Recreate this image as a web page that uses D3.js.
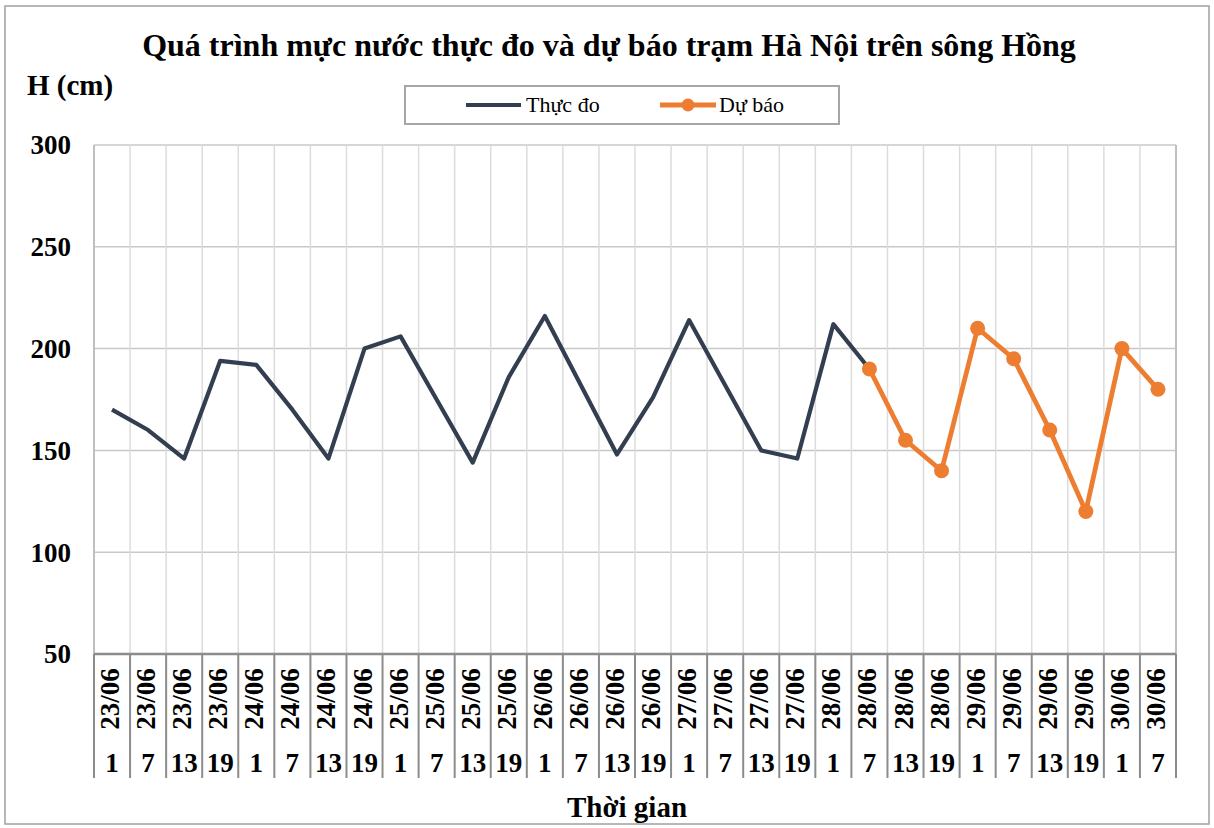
<!DOCTYPE html>
<html><head><meta charset="utf-8">
<script src="https://cdn.jsdelivr.net/npm/d3@7"></script>
<style>body{margin:0;background:#fff}svg{display:block}text{font-family:"Liberation Serif","Times New Roman",serif}</style>
</head><body><svg id="c" width="1214" height="828"></svg>
<script>
const dates = ["23/06","23/06","23/06","23/06","24/06","24/06","24/06","24/06","25/06","25/06","25/06","25/06","26/06","26/06","26/06","26/06","27/06","27/06","27/06","27/06","28/06","28/06","28/06","28/06","29/06","29/06","29/06","29/06","30/06","30/06"];
const hours = ["1","7","13","19","1","7","13","19","1","7","13","19","1","7","13","19","1","7","13","19","1","7","13","19","1","7","13","19","1","7"];
const observed = [170,160,146,194,192,170,146,200,206,175,144,186,216,182,148,176,214,182,150,146,212,190,null,null,null,null,null,null,null,null];
const forecast = [null,null,null,null,null,null,null,null,null,null,null,null,null,null,null,null,null,null,null,null,null,190,155,140,210,195,160,120,200,180];
const yTicks = [50,100,150,200,250,300];
const title = "Quá trình mực nước thực đo và dự báo trạm Hà Nội trên sông Hồng";

const svg = d3.select("#c");
const L=94, R=1176, T=145, B=654;
const x = d3.scaleBand().domain(d3.range(dates.length)).range([L,R]).padding(0);
const y = d3.scaleLinear().domain([50,300]).range([B,T]);
const bw = x.bandwidth();
const cx = i => x(i)+bw/2;

svg.append("rect").attr("x",5).attr("y",6).attr("width",1204).attr("height",818).attr("fill","#fff").attr("stroke","#a0a0a0").attr("stroke-width",1.5);

// horizontal grid
svg.append("g").selectAll("line").data(yTicks.filter(t=>t>50)).join("line")
  .attr("x1",L).attr("x2",R).attr("y1",d=>y(d)).attr("y2",d=>y(d))
  .attr("stroke","#c8c8c8").attr("stroke-width",1.5);
// vertical grid
svg.append("g").selectAll("line").data(d3.range(1,dates.length)).join("line")
  .attr("x1",d=>x(d)).attr("x2",d=>x(d)).attr("y1",T).attr("y2",B)
  .attr("stroke","#dcdcdc").attr("stroke-width",1.5);
// category separators
svg.append("g").selectAll("line").data(d3.range(0,dates.length+1)).join("line")
  .attr("x1",d=>d===dates.length?R:x(d)).attr("x2",d=>d===dates.length?R:x(d)).attr("y1",B).attr("y2",778)
  .attr("stroke","#8c8c8c").attr("stroke-width",2);
// left / right axis lines
svg.append("line").attr("x1",L).attr("x2",L).attr("y1",T).attr("y2",B).attr("stroke","#bfbfbf").attr("stroke-width",2);
svg.append("line").attr("x1",R).attr("x2",R).attr("y1",T).attr("y2",B).attr("stroke","#bfbfbf").attr("stroke-width",2);
svg.append("line").attr("x1",L).attr("x2",R).attr("y1",B).attr("y2",B).attr("stroke","#8c8c8c").attr("stroke-width",2.5);

// y tick labels
svg.append("g").selectAll("text").data(yTicks).join("text")
  .attr("x",71).attr("y",d=>y(d)).attr("dy","0.35em").attr("text-anchor","end")
  .attr("font-size",27).attr("font-weight","bold").text(d=>d);

// date labels
svg.append("g").selectAll("text").data(dates).join("text")
  .attr("transform",(d,i)=>`translate(${cx(i)+7},699) rotate(-90)`)
  .attr("text-anchor","middle").attr("font-size",27).attr("font-weight","bold").text(d=>d);
// hour labels
svg.append("g").selectAll("text").data(hours).join("text")
  .attr("x",(d,i)=>cx(i)).attr("y",772).attr("text-anchor","middle")
  .attr("font-size",27).attr("font-weight","bold").text(d=>d);

// lines
const line = d3.line().defined(d=>d!=null).x((d,i)=>cx(i)).y(d=>y(d));
svg.append("path").datum(observed).attr("d",line).attr("fill","none").attr("stroke","#333f50").attr("stroke-width",4.2).attr("stroke-linejoin","round");
svg.append("path").datum(forecast).attr("d",line).attr("fill","none").attr("stroke","#ed7d31").attr("stroke-width",4.8).attr("stroke-linejoin","round");
svg.append("g").selectAll("circle").data(forecast.map((v,i)=>({v,i})).filter(d=>d.v!=null)).join("circle")
  .attr("cx",d=>cx(d.i)).attr("cy",d=>y(d.v)).attr("r",7.5).attr("fill","#ed7d31");

// title & axis titles
svg.append("text").attr("x",609).attr("y",56).attr("text-anchor","middle").attr("font-size",32).attr("font-weight","bold").text(title);
svg.append("text").attr("x",27).attr("y",95).attr("font-size",29).attr("font-weight","bold").text("H (cm)");
svg.append("text").attr("x",627).attr("y",817).attr("text-anchor","middle").attr("font-size",29).attr("font-weight","bold").text("Thời gian");

// legend
const lg = svg.append("g");
lg.append("rect").attr("x",405).attr("y",86).attr("width",434).attr("height",38).attr("fill","#fff").attr("stroke","#a6a6a6").attr("stroke-width",2);
lg.append("line").attr("x1",466).attr("x2",521).attr("y1",105).attr("y2",105).attr("stroke","#333f50").attr("stroke-width",4.2);
lg.append("text").attr("x",526).attr("y",112).attr("font-size",22).text("Thực đo");
lg.append("line").attr("x1",660).attr("x2",716).attr("y1",105).attr("y2",105).attr("stroke","#ed7d31").attr("stroke-width",4.8);
lg.append("circle").attr("cx",688).attr("cy",105).attr("r",6.5).attr("fill","#ed7d31");
lg.append("text").attr("x",719).attr("y",112).attr("font-size",22).text("Dự báo");
</script></body></html>
